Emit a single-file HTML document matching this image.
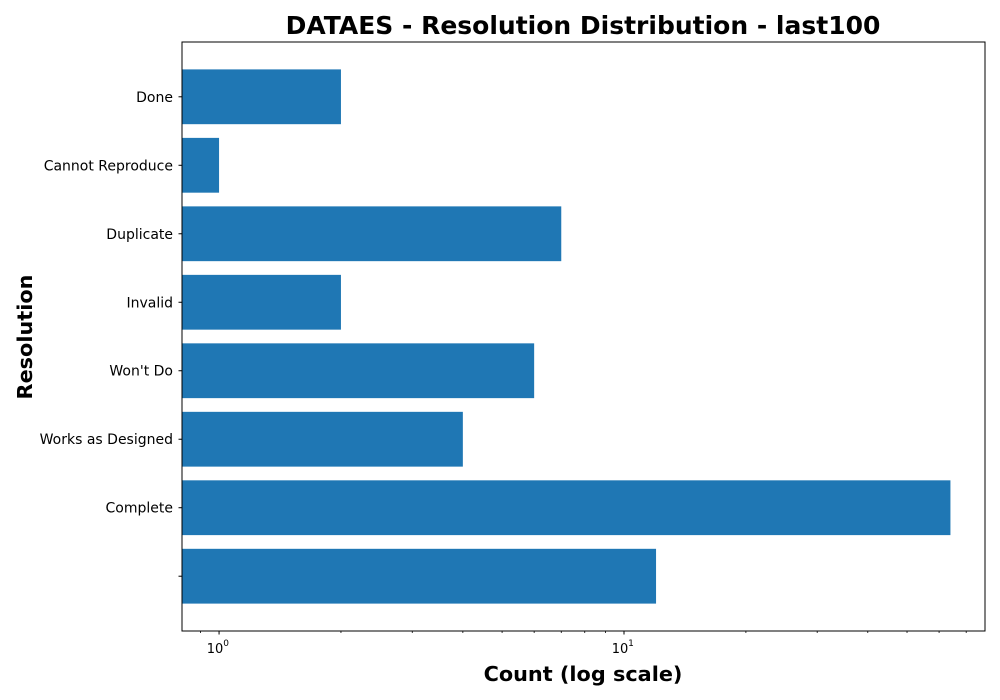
<!DOCTYPE html>
<html><head><meta charset="utf-8">
<style>
html,body{margin:0;padding:0;background:#fff;}
svg{display:block;font-family:"DejaVu Sans","Liberation Sans",sans-serif;}
</style></head>
<body>
<svg id="chart" width="1000" height="700" viewBox="0 0 1000 700">
<text x="583" y="34" text-anchor="middle" font-size="25" font-weight="bold">DATAES - Resolution Distribution - last100</text>
<text x="583" y="681" text-anchor="middle" font-size="20.8" font-weight="bold">Count (log scale)</text>
<text transform="translate(32,337) rotate(-90)" text-anchor="middle" font-size="20.8" font-weight="bold">Resolution</text>
<g id="bars"></g>
<g id="axes"></g>
</svg>
<script>
const categories = ["", "Complete", "Works as Designed", "Won't Do", "Invalid", "Duplicate", "Cannot Reproduce", "Done"];
const counts = [12, 64, 4, 6, 2, 7, 1, 2];
const xMajorTicks = [1, 10];
const xMajorLabels = ["0", "1"];

const L = 182, R = 985, T = 42, B = 631;
const xMin = 0.81, xMax = 77.9;
const yMin = -0.8, yMax = categories.length - 0.2;
function xs(v){ return L + (Math.log10(v) - Math.log10(xMin)) / (Math.log10(xMax) - Math.log10(xMin)) * (R - L); }
function ys(i){ return B - (i - yMin) / (yMax - yMin) * (B - T); }
const NS = "http://www.w3.org/2000/svg";
const bars = document.getElementById('bars');
const axes = document.getElementById('axes');
function mk(tag, attrs, parent){ const e = document.createElementNS(NS, tag); for (const k in attrs) e.setAttribute(k, attrs[k]); parent.appendChild(e); return e; }
const unit = (B - T) / (yMax - yMin);
categories.forEach((c, i) => {
  const x1 = Math.max(L, xs(Math.max(counts[i], 1e-9)));
  const r = mk('rect', {x: L, y: ys(i) - 0.4 * unit, width: Math.max(0, x1 - L), height: 0.8 * unit, fill: '#1f77b4'}, bars);
  
  
  mk('line', {x1: L - 3.5, x2: L, y1: ys(i), y2: ys(i), stroke: '#000', 'stroke-width': 1}, axes);
  const t = mk('text', {x: L - 9, y: ys(i) + 5, 'text-anchor': 'end', 'font-size': 14}, axes);
  t.textContent = c;
  
  
});
const frame = mk('rect', {x: L, y: T, width: R - L, height: B - T, fill: 'none', stroke: '#000', 'stroke-width': 1}, axes);


for (let d = -1; d <= 1; d++) {
  for (let m = 2; m <= 9; m++) {
    const v = m * Math.pow(10, d);
    if (v > xMin && v < xMax) mk('line', {x1: xs(v), x2: xs(v), y1: B, y2: B + 2, stroke: '#000', 'stroke-width': 0.8}, axes);
  }
}
xMajorTicks.forEach((v, i) => {
  const x = xs(v);
  mk('line', {x1: x, x2: x, y1: B, y2: B + 3.5, stroke: '#000', 'stroke-width': 1}, axes);
  const t = mk('text', {x: x - 4, y: B + 22, 'text-anchor': 'middle', 'font-size': 13}, axes);
  t.textContent = '10';
  
  
  const s = mk('text', {x: x + 7, y: B + 15, 'text-anchor': 'middle', 'font-size': 9}, axes);
  s.textContent = xMajorLabels[i];
  
  
});
</script>
</body></html>
